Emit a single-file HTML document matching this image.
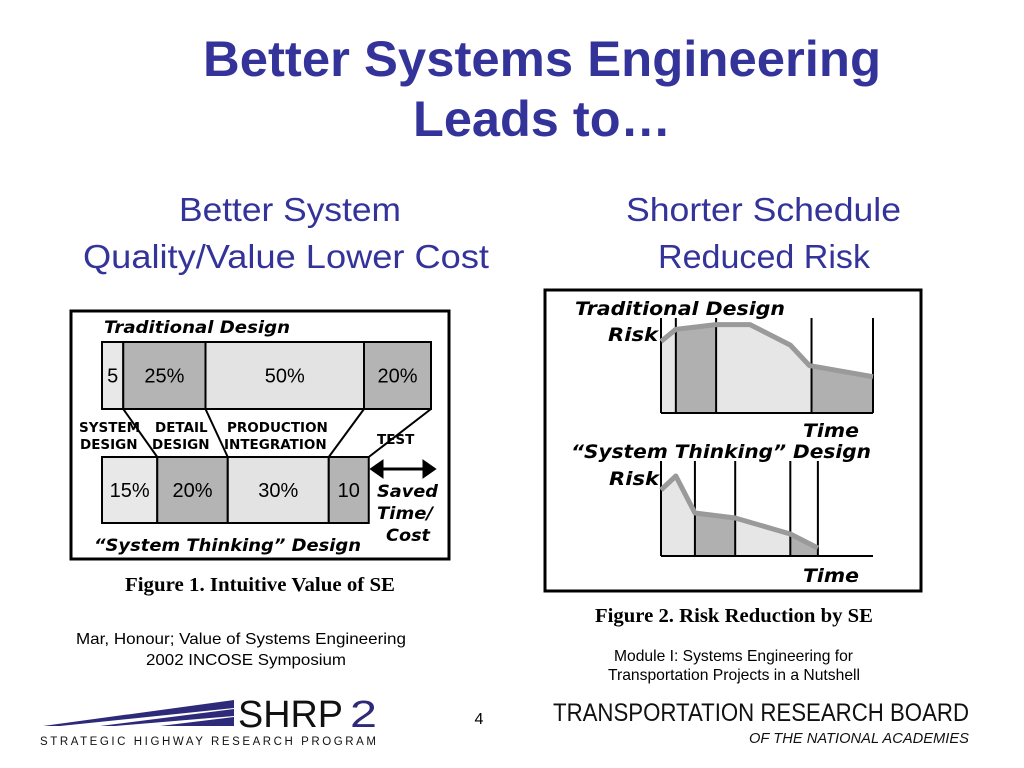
<!DOCTYPE html>
<html><head><meta charset="utf-8"><style>
body{margin:0;width:1024px;height:768px;background:#fff;overflow:hidden}
svg{display:block}
.t{font-family:"Liberation Sans",sans-serif;font-weight:bold;fill:#33339a}
.sub{font-family:"Liberation Sans",sans-serif;fill:#33339a;font-size:33px}
.bk{font-family:"DejaVu Sans","Liberation Sans",sans-serif;font-weight:bold;font-style:italic;fill:#000}
.lbl{font-family:"DejaVu Sans",sans-serif;font-weight:bold;fill:#000;font-size:13.5px}
.num{font-family:"Liberation Sans",sans-serif;fill:#000;font-size:20px}
.cap{font-family:"Liberation Serif",serif;font-weight:bold;font-size:20px;fill:#000}
.sm{font-family:"Liberation Sans",sans-serif;font-size:16px;fill:#000}
</style></head><body>
<svg id="s" width="1024" height="768">
<text class="t" x="203" y="76" font-size="50" textLength="678" lengthAdjust="spacingAndGlyphs">Better Systems Engineering</text>
<text class="t" x="413" y="136" font-size="50" textLength="258" lengthAdjust="spacingAndGlyphs">Leads to…</text>
<text class="sub" x="179" y="221" textLength="222" lengthAdjust="spacingAndGlyphs">Better System</text>
<text class="sub" x="83" y="268" textLength="406" lengthAdjust="spacingAndGlyphs">Quality/Value Lower Cost</text>
<text class="sub" x="626" y="221" textLength="275" lengthAdjust="spacingAndGlyphs">Shorter Schedule</text>
<text class="sub" x="658" y="268" textLength="212" lengthAdjust="spacingAndGlyphs">Reduced Risk</text>

<g id="fig1">
<rect x="71" y="311" width="378" height="248" fill="#fff" stroke="#000" stroke-width="3"/>
<text class="bk" x="104" y="333" font-size="17" textLength="186" lengthAdjust="spacingAndGlyphs">Traditional Design</text>
<text class="bk" x="94" y="551" font-size="17" textLength="267" lengthAdjust="spacingAndGlyphs">“System Thinking” Design</text>
<text class="lbl" x="79" y="432">SYSTEM</text><text class="lbl" x="80" y="449">DESIGN</text>
<text class="lbl" x="155" y="432">DETAIL</text><text class="lbl" x="152" y="449">DESIGN</text>
<text class="lbl" x="227" y="432">PRODUCTION</text><text class="lbl" x="224" y="449">INTEGRATION</text>
<text class="lbl" x="377" y="444">TEST</text>
<path d="M372 469 H434 M372 469 l10 -7 v14 z M434 469 l-10 -7 v14 z" stroke="#000" stroke-width="3" fill="#000"/>
<text class="bk" x="377" y="497" font-size="17" textLength="61" lengthAdjust="spacingAndGlyphs">Saved</text>
<text class="bk" x="377" y="519" font-size="17" textLength="56" lengthAdjust="spacingAndGlyphs">Time/</text>
<text class="bk" x="386" y="541" font-size="17" textLength="44" lengthAdjust="spacingAndGlyphs">Cost</text>
</g>
<text class="cap" x="125" y="591" textLength="270" lengthAdjust="spacingAndGlyphs">Figure 1.  Intuitive Value of SE</text>

<g id="fig2">
<rect x="545" y="290" width="376" height="301" fill="#fff" stroke="#000" stroke-width="3"/>
<text class="bk" x="575" y="315" font-size="19" textLength="210" lengthAdjust="spacingAndGlyphs">Traditional Design</text>
<text class="bk" x="608" y="341" font-size="19" textLength="50" lengthAdjust="spacingAndGlyphs">Risk</text>
<text class="bk" x="803" y="437" font-size="19" textLength="56" lengthAdjust="spacingAndGlyphs">Time</text>
<text class="bk" x="571" y="458" font-size="19" textLength="300" lengthAdjust="spacingAndGlyphs">“System Thinking” Design</text>
<text class="bk" x="609" y="485" font-size="19" textLength="50" lengthAdjust="spacingAndGlyphs">Risk</text>
<text class="bk" x="803" y="582" font-size="19" textLength="56" lengthAdjust="spacingAndGlyphs">Time</text>
</g>
<text class="cap" x="595" y="622" textLength="278" lengthAdjust="spacingAndGlyphs">Figure 2.  Risk Reduction by SE</text>

<text class="sm" x="76" y="644" textLength="330" lengthAdjust="spacingAndGlyphs">Mar, Honour; Value of Systems Engineering</text>
<text class="sm" x="146" y="665" textLength="200" lengthAdjust="spacingAndGlyphs">2002 INCOSE Symposium</text>
<text class="sm" x="614" y="661" font-size="14" textLength="239" lengthAdjust="spacingAndGlyphs">Module I: Systems Engineering for</text>
<text class="sm" x="608" y="680" font-size="14" textLength="252" lengthAdjust="spacingAndGlyphs">Transportation Projects in a Nutshell</text>
<text class="sm" x="479" y="724" text-anchor="middle" font-size="17">4</text>

<g>
<path d="M43 726 L234 700 L234 708 L60 726 Z M100 726 L234 709 L234 716 L115 726 Z M160 726 L234 717 L234 726 Z" fill="#2e2a7a"/>
<text x="238" y="727" font-family="Liberation Sans,sans-serif" font-size="38" fill="#111" textLength="105" lengthAdjust="spacingAndGlyphs">SHRP</text>
<text x="350" y="727" font-family="Liberation Sans,sans-serif" font-size="38" fill="#2e2a7a" textLength="27" lengthAdjust="spacingAndGlyphs">2</text>
<text x="40" y="745" font-family="Liberation Sans,sans-serif" font-size="11.5" fill="#111" textLength="336" lengthAdjust="spacing">STRATEGIC HIGHWAY RESEARCH PROGRAM</text>
</g>
<g>
<text x="553" y="721" font-family="Liberation Sans,sans-serif" font-size="25" fill="#111" textLength="416" lengthAdjust="spacingAndGlyphs">TRANSPORTATION RESEARCH BOARD</text>
<text x="749" y="743" font-family="Liberation Sans,sans-serif" font-style="italic" font-size="15" fill="#111" textLength="220" lengthAdjust="spacingAndGlyphs">OF THE NATIONAL ACADEMIES</text>
</g>
</svg>
<script>
// Figure 1 data
const phases=["system","detail","production","test"];
const tradPct=[5,25,50,20];
const tradLabels=["5","25%","50%","20%"];
const stPct=[15,20,30,10];
const stLabels=["15%","20%","30%","10"];
const fills=["#e8e8e8","#b4b4b4","#e3e3e3","#b4b4b4"];
// Figure 2 data (time fraction 0..1, risk 0..1)
const tradTime=[0,0.07,0.26,0.42,0.61,0.70,1.0];
const tradRisk=[0.77,0.90,0.95,0.95,0.73,0.51,0.39];
const tradBounds=[0,0.07,0.26,0.71,1.0];
const stTime=[0,0.07,0.16,0.35,0.61,0.74];
const stRisk=[0.66,0.80,0.43,0.38,0.22,0.08];
const stBounds=[0,0.16,0.35,0.61,0.74];
const NS="http://www.w3.org/2000/svg";
function mk(p,tag,a){const e=document.createElementNS(NS,tag);for(const k in a)e.setAttribute(k,a[k]);p.appendChild(e);return e;}
const f1=document.getElementById('fig1');
const x0=102,scale=3.05;
function row(vals,labels,y,h,kind,pad){const xs=[x0];let x=x0;vals.forEach((v,i)=>{const w=pad+v*scale;
const r=mk(f1,'rect',{x:x,y:y,width:w,height:h,fill:fills[i],stroke:'#000','stroke-width':2});


const t=mk(f1,'text',{x:x+w/2,y:y+h/2+7,'text-anchor':'middle',class:'num'});t.textContent=labels[i];


x+=w;xs.push(x);});return xs;}
const a=row(tradPct,tradLabels,342,67,'traditional',6);
const b=row(stPct,stLabels,457,66,'system-thinking',9.5);
for(let i=1;i<a.length;i++){const l=mk(f1,'line',{x1:a[i],y1:409,x2:b[i],y2:457,stroke:'#000','stroke-width':2});

}
const f2=document.getElementById('fig2');
function chart(times,risks,bounds,left,right,base,top,topLine,kind){
const X=t=>left+t*(right-left),Y=r=>base-r*(base-top);
function riskAt(t){for(let i=1;i<times.length;i++){if(t<=times[i]+1e-9){const f=(t-times[i-1])/(times[i]-times[i-1]);return risks[i-1]+f*(risks[i]-risks[i-1]);}}return risks[risks.length-1];}
for(let s=0;s<bounds.length-1;s++){const t0=bounds[s],t1=bounds[s+1];let d='M'+X(t0)+' '+base+' L'+X(t0)+' '+Y(riskAt(t0));
times.forEach((t,i)=>{if(t>t0&&t<t1)d+=' L'+X(t)+' '+Y(risks[i]);});
d+=' L'+X(t1)+' '+Y(riskAt(t1))+' L'+X(t1)+' '+base+' Z';
const p=mk(f2,'path',{d:d,fill:s%2?'#b0b0b0':'#e6e6e6'});

}
bounds.forEach(t=>{const l=mk(f2,'line',{x1:X(t),y1:topLine,x2:X(t),y2:base,stroke:'#000','stroke-width':2});

});
const ax=mk(f2,'line',{x1:left,y1:base,x2:right,y2:base,stroke:'#000','stroke-width':2});


const pl=mk(f2,'polyline',{points:times.map((t,i)=>X(t)+','+Y(risks[i])).join(' '),fill:'none',stroke:'#9a9a9a','stroke-width':5,'stroke-linejoin':'round'});

}
chart(tradTime,tradRisk,tradBounds,661,873,413,320,318,'traditional');
chart(stTime,stRisk,stBounds,661,873,556,456,461,'system-thinking');
</script>
</body></html>
